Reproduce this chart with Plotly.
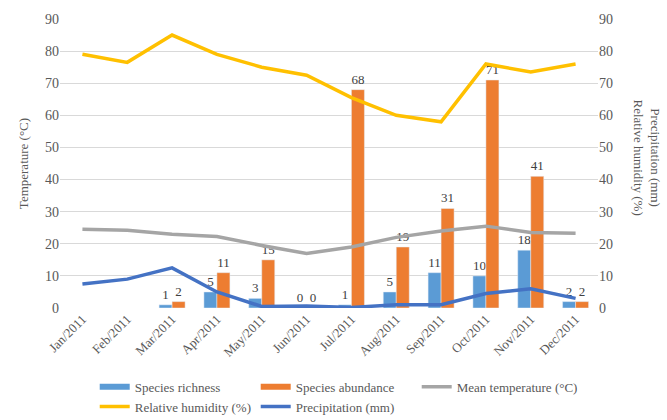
import plotly.graph_objects as go

months = ["Jan/2011", "Feb/2011", "Mar/2011", "Apr/2011", "May/2011", "Jun/2011",
          "Jul/2011", "Aug/2011", "Sep/2011", "Oct/2011", "Nov/2011", "Dec/2011"]
richness = [None, None, 1, 5, 3, 0, 1, 5, 11, 10, 18, 2]
abundance = [None, None, 2, 11, 15, 0, 68, 19, 31, 71, 41, 2]
temperature = [24.5, 24.2, 23.0, 22.3, 19.5, 17.0, 19.0, 22.0, 24.0, 25.5, 23.5, 23.3]
humidity = [79.0, 76.5, 85.0, 79.0, 75.0, 72.5, 65.5, 60.0, 58.0, 76.0, 73.5, 76.0]
precipitation = [7.5, 9.0, 12.5, 5.0, 0.5, 0.6, 0.2, 1.0, 1.0, 4.5, 6.0, 3.0]
ticks = [0, 10, 20, 30, 40, 50, 60, 70, 80, 90]

FONT = "Liberation Serif"
TXT = "#595959"
C_RICH, C_ABUN = "#5B9BD5", "#ED7D31"

fig = go.Figure()
fig.add_trace(go.Bar(x=months, y=richness, name="Species richness", marker_color=C_RICH,
                     text=[("" if v is None else str(v)) for v in richness], textposition="outside",
                     textfont=dict(family=FONT, size=13, color="#404040"), cliponaxis=False,
                     showlegend=False))
fig.add_trace(go.Bar(x=months, y=abundance, name="Species abundance", marker_color=C_ABUN,
                     text=[("" if v is None else str(v)) for v in abundance], textposition="outside",
                     textfont=dict(family=FONT, size=13, color="#404040"), cliponaxis=False,
                     showlegend=False))
# legend-only entries drawing the bar keys as wide rectangles
fig.add_trace(go.Scatter(x=[None], y=[None], name="Species richness", mode="lines",
                         line=dict(color=C_RICH, width=6), legendrank=1))
fig.add_trace(go.Scatter(x=[None], y=[None], name="Species abundance", mode="lines",
                         line=dict(color=C_ABUN, width=6), legendrank=2))
fig.add_trace(go.Scatter(x=months, y=temperature, name="Mean temperature (°C)", mode="lines",
                         line=dict(color="#A5A5A5", width=3.5), legendrank=3))
fig.add_trace(go.Scatter(x=months, y=humidity, name="Relative humidity (%)", mode="lines",
                         line=dict(color="#FFC000", width=3.5), yaxis="y2", legendrank=4))
fig.add_trace(go.Scatter(x=months, y=precipitation, name="Precipitation (mm)", mode="lines",
                         line=dict(color="#4472C4", width=3.5), yaxis="y2", legendrank=5))

fig.update_layout(
    width=667, height=420,
    margin=dict(l=60, r=69, t=14, b=111),
    paper_bgcolor="white", plot_bgcolor="white",
    font=dict(family=FONT, size=13, color=TXT),
    barmode="group", bargap=0.42, bargroupgap=0.0,
    showlegend=True,
    legend=dict(orientation="h", x=0.142, xref="container", xanchor="left",
                y=0.115, yref="container", yanchor="top",
                entrywidth=116, entrywidthmode="pixels", traceorder="normal",
                font=dict(family=FONT, size=13, color=TXT), itemwidth=30,
                tracegroupgap=0),
    xaxis=dict(tickangle=-45, showgrid=False, showline=False, ticks="",
               tickfont=dict(family=FONT, size=13, color=TXT)),
    yaxis=dict(range=[0, 90], tickvals=ticks, showgrid=True, gridcolor="#D9D9D9",
               gridwidth=1, zeroline=False, showline=False, ticks="",
               tickfont=dict(family=FONT, size=14, color=TXT),
               title=dict(text="Temperature (°C)", font=dict(family=FONT, size=13, color=TXT),
                          standoff=13)),
    yaxis2=dict(range=[0, 90], tickvals=ticks, overlaying="y", side="right",
                showgrid=False, zeroline=False, showline=False, ticks="",
                tickfont=dict(family=FONT, size=14, color=TXT)),
)
fig.add_annotation(text="Precipitation (mm)<br>Relative humidity (%)", textangle=90,
                   xref="paper", yref="paper", x=1.125, y=0.52, showarrow=False,
                   font=dict(family=FONT, size=13, color=TXT))

fig.write_html("out.html")
